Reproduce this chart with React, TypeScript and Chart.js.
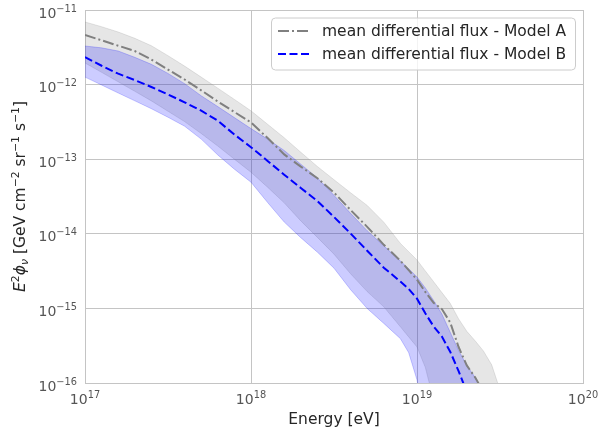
import React, { useEffect, useRef } from 'react';
import { Chart, registerables } from 'chart.js';

Chart.register(...registerables);

// log10 of energy [eV] at which the curves were sampled
const energyLog10 = [
  17.0, 17.1, 17.2, 17.3, 17.4, 17.5, 17.6, 17.7, 17.8, 17.9,
  18.0, 18.1, 18.2, 18.3, 18.4, 18.5, 18.6, 18.7, 18.8, 18.9,
  18.95, 19.0, 19.05, 19.1, 19.15, 19.2, 19.25, 19.3, 19.35, 19.4, 19.45, 19.5,
];

const modelAMean = [
  4.62e-12, 3.93e-12, 3.32e-12, 2.82e-12, 2.17e-12, 1.59e-12, 1.17e-12, 8.39e-13, 5.93e-13, 4.29e-13,
  3.11e-13, 1.92e-13, 1.16e-13, 7.96e-14, 5.56e-14, 3.57e-14, 2.08e-14, 1.24e-14, 7.12e-15, 4.35e-15,
  3.25e-15, 2.43e-15, 1.66e-15, 1.19e-15, 9.79e-16, 6.49e-16, 3.06e-16, 1.72e-16, 1.19e-16, 7.6e-17, 4.35e-17, 2.3e-17,
];
const modelAUpper = [
  6.91e-12, 5.97e-12, 5.07e-12, 4.17e-12, 3.32e-12, 2.44e-12, 1.77e-12, 1.26e-12, 8.95e-13, 6.33e-13,
  4.45e-13, 2.94e-13, 1.94e-13, 1.24e-13, 7.98e-14, 5.31e-14, 3.55e-14, 2.4e-14, 1.43e-14, 7.44e-15,
  5.76e-15, 4.45e-15, 3.18e-15, 2.28e-15, 1.63e-15, 1.17e-15, 7.28e-16, 4.93e-16, 3.68e-16, 2.69e-16, 1.75e-16, 8.06e-17,
];
const modelALower = [
  1.95e-12, 1.46e-12, 1.09e-12, 8.13e-13, 6.05e-13, 4.39e-13, 3.19e-13, 2.21e-13, 1.5e-13, 1.0e-13,
  6.69e-14, 4.21e-14, 2.6e-14, 1.49e-14, 8.95e-15, 5.33e-15, 2.91e-15, 1.68e-15, 1.05e-15, 5.67e-16,
  4.15e-16, 3.04e-16, 1.62e-16, 5.9e-17, 2e-17, 8e-18, 3e-18, 1e-18, 5e-19, 3e-19, 2e-19, 1e-19,
];
const modelBMean = [
  2.34e-12, 1.79e-12, 1.4e-12, 1.15e-12, 9.29e-13, 7.37e-13, 5.79e-13, 4.47e-13, 3.28e-13, 2.14e-13,
  1.45e-13, 9.49e-14, 6.2e-14, 4.12e-14, 2.75e-14, 1.68e-14, 1.01e-14, 5.93e-15, 3.51e-15, 2.29e-15,
  1.82e-15, 1.35e-15, 8.6e-16, 5.74e-16, 4.19e-16, 2.63e-16, 1.45e-16, 7.6e-17, 3.7e-17, 1.7e-17, 8e-18, 3.7e-18,
];
const modelBUpper = [
  3.29e-12, 3.11e-12, 2.82e-12, 2.32e-12, 1.87e-12, 1.41e-12, 1.03e-12, 7.08e-13, 5.07e-13, 3.61e-13,
  2.57e-13, 1.86e-13, 1.31e-13, 8.57e-14, 5.61e-14, 3.28e-14, 1.88e-14, 1.1e-14, 6.89e-15, 4.32e-15,
  3.41e-15, 2.64e-15, 1.88e-15, 1.28e-15, 8.39e-16, 4.8e-16, 2.75e-16, 1.72e-16, 1.19e-16, 7.6e-17, 4.35e-17, 2.3e-17,
];
const modelBLower = [
  1.26e-12, 9.88e-13, 7.72e-13, 6.06e-13, 4.75e-13, 3.65e-13, 2.77e-13, 1.86e-13, 1.14e-13, 7.35e-14,
  4.92e-14, 2.63e-14, 1.44e-14, 8.87e-15, 5.68e-15, 3.46e-15, 1.78e-15, 9.97e-16, 6.29e-16, 3.93e-16,
  2.55e-16, 1.1e-16, 2.3e-17, 5e-18, 1e-18, 5e-19, 3e-19, 2e-19, 1e-19, 1e-19, 1e-19, 1e-19,
];

const xTickExponents = [17, 18, 19, 20];
const yTickExponents = [-16, -15, -14, -13, -12, -11];
const legendLabels = ['mean differential flux - Model A', 'mean differential flux - Model B'];
const xAxisTitle = 'Energy [eV]';

const FONT = '"DejaVu Sans", sans-serif';
const GRID = '#c4c4c4';
const GRAY = '#808080';
const BLUE = '#0000ff';
const GRAY_FILL = 'rgba(128,128,128,0.2)';
const BLUE_FILL = 'rgba(0,0,255,0.2)';
const DASH_A = [11, 3, 2, 3];
const DASH_B = [8, 3.5];

function pts(values: number[]) {
  return energyLog10.map((e, i) => ({ x: 10 ** e, y: values[i] }));
}

function expText(e: number) {
  return e < 0 ? '\u2212' + Math.abs(e) : String(e);
}

export default function App() {
  const ref = useRef<HTMLCanvasElement>(null);

  useEffect(() => {
    const canvas = ref.current as HTMLCanvasElement;

    const overlay = {
      id: 'overlayText',
      afterDraw(chart: any) {
        const ctx = chart.ctx as CanvasRenderingContext2D;
        const area = chart.chartArea;
        const xs = chart.scales.x;
        const ys = chart.scales.y;
        const base = 14;
        const sup = 9.8;
        ctx.save();
        ctx.textBaseline = 'alphabetic';
        ctx.textAlign = 'left';
        ctx.fillStyle = '#555555';

        // x tick labels
        xTickExponents.forEach((e) => {
          const px = xs.getPixelForValue(10 ** e);
          ctx.font = `${base}px ${FONT}`;
          const w1 = ctx.measureText('10').width;
          ctx.font = `${sup}px ${FONT}`;
          const es = expText(e);
          const w2 = ctx.measureText(es).width;
          const x0 = px - (w1 + w2) / 2;
          ctx.font = `${base}px ${FONT}`;
          ctx.fillText('10', x0, area.bottom + 20.5);
          ctx.font = `${sup}px ${FONT}`;
          ctx.fillText(es, x0 + w1, area.bottom + 14.5);
        });

        // y tick labels
        yTickExponents.forEach((e) => {
          const py = ys.getPixelForValue(10 ** e);
          ctx.font = `${base}px ${FONT}`;
          const w1 = ctx.measureText('10').width;
          ctx.font = `${sup}px ${FONT}`;
          const es = expText(e);
          const w2 = ctx.measureText(es).width;
          const right = area.left - 8;
          const x0 = right - w1 - w2;
          ctx.font = `${base}px ${FONT}`;
          ctx.fillText('10', x0, py + 7.5);
          ctx.font = `${sup}px ${FONT}`;
          ctx.fillText(es, x0 + w1, py + 1.5);
        });

        // x axis title
        ctx.fillStyle = '#262626';
        ctx.font = `15.5px ${FONT}`;
        ctx.textAlign = 'center';
        ctx.fillText(xAxisTitle, (area.left + area.right) / 2, area.bottom + 41);

        // y axis title (rotated, mixed styles)
        const big = 15.5;
        const small = 10.85;
        const segs = [
          { t: 'E', f: `italic ${big}px ${FONT}`, dy: 0 },
          { t: '2', f: `${small}px ${FONT}`, dy: -6.5 },
          { t: '\u03d5', f: `italic ${big}px ${FONT}`, dy: 0 },
          { t: '\u03bd', f: `italic ${small}px ${FONT}`, dy: 3 },
          { t: ' [GeV cm', f: `${big}px ${FONT}`, dy: 0 },
          { t: '\u22122', f: `${small}px ${FONT}`, dy: -6.5 },
          { t: ' sr', f: `${big}px ${FONT}`, dy: 0 },
          { t: '\u22121', f: `${small}px ${FONT}`, dy: -6.5 },
          { t: ' s', f: `${big}px ${FONT}`, dy: 0 },
          { t: '\u22121', f: `${small}px ${FONT}`, dy: -6.5 },
          { t: ']', f: `${big}px ${FONT}`, dy: 0 },
        ];
        let total = 0;
        const widths = segs.map((s) => {
          ctx.font = s.f;
          const w = ctx.measureText(s.t).width;
          total += w;
          return w;
        });
        ctx.save();
        ctx.translate(25, (area.top + area.bottom) / 2);
        ctx.rotate(-Math.PI / 2);
        ctx.textAlign = 'left';
        let cx = -total / 2;
        segs.forEach((s, i) => {
          ctx.font = s.f;
          ctx.fillText(s.t, cx, s.dy);
          cx += widths[i];
        });
        ctx.restore();

        // legend
        const lw = 304;
        const lh = 52;
        const lx = area.right - 7.5 - lw;
        const ly = area.top + 8;
        const r = 4;
        ctx.beginPath();
        ctx.moveTo(lx + r, ly);
        ctx.lineTo(lx + lw - r, ly);
        ctx.arcTo(lx + lw, ly, lx + lw, ly + r, r);
        ctx.lineTo(lx + lw, ly + lh - r);
        ctx.arcTo(lx + lw, ly + lh, lx + lw - r, ly + lh, r);
        ctx.lineTo(lx + r, ly + lh);
        ctx.arcTo(lx, ly + lh, lx, ly + lh - r, r);
        ctx.lineTo(lx, ly + r);
        ctx.arcTo(lx, ly, lx + r, ly, r);
        ctx.closePath();
        ctx.fillStyle = 'rgba(255,255,255,0.8)';
        ctx.fill();
        ctx.strokeStyle = '#cccccc';
        ctx.lineWidth = 1;
        ctx.stroke();

        const rows = [
          { label: legendLabels[0], color: GRAY, dash: DASH_A },
          { label: legendLabels[1], color: BLUE, dash: DASH_B },
        ];
        rows.forEach((row, i) => {
          const y = ly + 13 + i * 23;
          ctx.beginPath();
          ctx.setLineDash(row.dash);
          ctx.strokeStyle = row.color;
          ctx.lineWidth = 2;
          ctx.moveTo(lx + 6.5, y);
          ctx.lineTo(lx + 37.5, y);
          ctx.stroke();
          ctx.setLineDash([]);
          ctx.fillStyle = '#262626';
          ctx.font = `15.5px ${FONT}`;
          ctx.textAlign = 'left';
          ctx.textBaseline = 'middle';
          ctx.fillText(row.label, lx + 50.5, y + 0.5);
        });
        ctx.restore();
      },
    };

    const chart = new Chart(canvas, {
      type: 'line',
      data: {
        datasets: [
          {
            label: legendLabels[1],
            data: pts(modelBMean),
            borderColor: BLUE,
            borderWidth: 2,
            borderDash: DASH_B,
            fill: false,
            pointRadius: 0,
          },
          {
            label: legendLabels[0],
            data: pts(modelAMean),
            borderColor: GRAY,
            borderWidth: 2,
            borderDash: DASH_A,
            fill: false,
            pointRadius: 0,
          },
          {
            label: 'Model B upper',
            data: pts(modelBUpper),
            borderColor: BLUE_FILL,
            backgroundColor: BLUE_FILL,
            borderWidth: 1,
            fill: '+1',
            pointRadius: 0,
          },
          {
            label: 'Model B lower',
            data: pts(modelBLower),
            borderColor: BLUE_FILL,
            borderWidth: 1,
            fill: false,
            pointRadius: 0,
          },
          {
            label: 'Model A upper',
            data: pts(modelAUpper),
            borderColor: GRAY_FILL,
            backgroundColor: GRAY_FILL,
            borderWidth: 1,
            fill: '+1',
            pointRadius: 0,
          },
          {
            label: 'Model A lower',
            data: pts(modelALower),
            borderColor: GRAY_FILL,
            borderWidth: 1,
            fill: false,
            pointRadius: 0,
          },
        ],
      },
      options: {
        animation: false,
        responsive: false,
        maintainAspectRatio: false,
        layout: { padding: { left: 0, right: 15, top: 10, bottom: 0 } },
        plugins: {
          legend: { display: false },
          tooltip: { enabled: false },
        },
        elements: { line: { tension: 0 }, point: { radius: 0 } },
        scales: {
          x: {
            type: 'logarithmic',
            min: 1e17,
            max: 1e20,
            afterBuildTicks: (s: any) => {
              s.ticks = xTickExponents.map((e) => ({ value: 10 ** e }));
            },
            afterFit: (s: any) => {
              s.height = 46;
            },
            ticks: { display: false },
            grid: { color: GRID, lineWidth: 1, drawTicks: false },
            border: { display: true, color: GRID, width: 1 },
          },
          y: {
            type: 'logarithmic',
            min: 1e-16,
            max: 1e-11,
            afterBuildTicks: (s: any) => {
              s.ticks = yTickExponents.map((e) => ({ value: 10 ** e }));
            },
            afterFit: (s: any) => {
              s.width = 85;
            },
            ticks: { display: false },
            grid: { color: GRID, lineWidth: 1, drawTicks: false },
            border: { display: true, color: GRID, width: 1 },
          },
        },
      } as any,
      plugins: [overlay],
    });

    return () => {
      chart.destroy();
    };
  }, []);

  return (
    <div style={{ position: 'absolute', left: 0, top: 0, width: 598, height: 429, background: '#ffffff' }}>
      <canvas ref={ref} width={598} height={429} style={{ display: 'block', width: 598, height: 429 }} />
    </div>
  );
}
